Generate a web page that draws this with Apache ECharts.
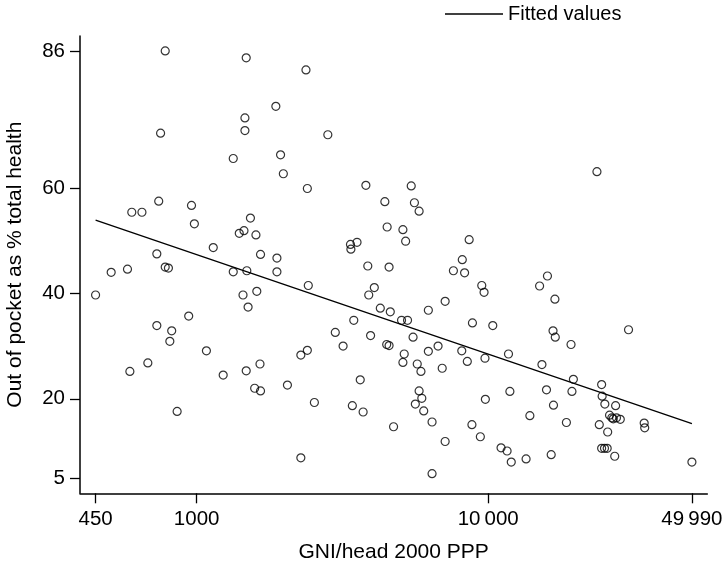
<!DOCTYPE html>
<html>
<head>
<meta charset="utf-8">
<script src="https://cdn.jsdelivr.net/npm/echarts@6/dist/echarts.min.js"></script>
<style>html,body{margin:0;padding:0;background:#fff}#c{width:727px;height:566px}</style>
</head>
<body>
<div id="c"></div>
<script>
var gni = [450,509,579,590,599,649,680,730,730,741,
752,780,780,800,809,821,857,939,960,982,
1080,1140,1233,1335,1335,1400,1442,1453,1464,1464,
1479,1479,1486,1501,1529,1581,1597,1608,1649,1656,
1656,1869,1885,1885,1940,1983,2048,2277,2277,2371,
2397,2397,2415,2534,2818,2989,3179,3370,3381,3420,
3459,3549,3640,3724,3806,3864,3893,3950,4068,4265,
4421,4486,4502,4571,4571,4736,4615,5044,5099,5099,
5152,5210,5289,5445,5525,5584,5625,5710,5795,5795,
5880,5920,6010,6234,6234,6419,6419,6731,6955,7118,
7118,7598,8117,8150,8300,8480,8605,8795,8830,9400,
9506,9680,9750,9780,10370,11070,11610,11740,11870,12000,
13490,13900,15010,15290,15850,15970,16450,16690,16750,16940,
16990,18550,19240,19380,19600,23610,24050,24500,24600,24500,
25060,25600,25130,25700,26080,26560,26860,27170,27360,27550,
28390,30300,34290,34430,49990];
var oop = [39.7,44.0,44.6,25.2,55.4,55.4,26.8,33.9,47.5,57.5,
70.4,86.0,45.0,44.8,30.9,32.9,17.6,35.7,56.7,53.2,
29.1,48.7,24.5,65.6,44.1,51.4,39.7,51.9,73.3,70.9,
84.7,25.3,44.3,37.4,54.3,22.0,51.1,40.4,26.6,47.4,
21.5,75.5,46.7,44.1,66.3,62.7,22.6,28.3,8.8,82.4,
59.9,29.2,41.5,19.3,70.1,32.6,30.0,49.3,48.4,18.7,
34.9,49.7,23.6,17.5,60.5,45.2,39.7,32.0,41.1,37.2,
57.4,30.3,52.6,30.1,45.0,14.7,36.5,34.9,52.1,26.9,
28.5,49.9,34.9,60.4,31.7,57.2,19.0,26.6,55.6,21.5,
25.2,20.1,17.7,29.0,36.8,15.6,5.8,30.0,25.8,38.5,
11.9,44.3,29.1,46.4,43.9,27.1,50.2,15.1,34.4,12.8,
41.5,40.2,27.7,19.9,33.9,10.7,10.1,28.5,21.4,8.0,
8.6,16.8,41.4,26.5,21.7,43.3,9.4,32.9,18.8,38.9,
31.7,15.5,30.3,21.4,23.7,63.1,15.1,22.7,20.5,10.6,
10.6,10.6,19.0,13.7,16.9,16.4,16.2,9.1,18.7,16.4,
16.1,33.1,15.4,14.5,8.0];
var fitX = [450, 49990];
var fitY = [53.9, 15.3];
var xTickValues = [450, 1000, 10000, 49990];
var xTickLabels = ['450', '1000', '10\u2009000', '49\u2009990'];
var yTickValues = [5, 20, 40, 60, 86];
var yTickLabels = ['5', '20', '40', '60', '86'];

var scatterData = gni.map(function (g, i) { return [g, oop[i]]; });
var fitData = fitX.map(function (x, i) { return [x, fitY[i]]; });

var FONT = '"Liberation Sans", Arial, Helvetica, sans-serif';
var chart = echarts.init(document.getElementById('c'), null, {renderer: 'canvas'});
chart.setOption({
  animation: false,
  backgroundColor: '#fff',
  textStyle: {fontFamily: FONT, color: '#000'},
  grid: {left: 80, right: 19.7, top: 36, bottom: 72.7, containLabel: false, outerBoundsMode: 'none'},
  legend: {
    data: [{name: 'Fitted values', icon: 'rect'}],
    left: 445, top: 4,
    padding: 0,
    itemWidth: 58, itemHeight: 1.4,
    itemStyle: {color: '#000'},
    textStyle: {fontSize: 20, color: '#000', fontFamily: FONT, padding: [0, 0, 0, 0]}
  },
  xAxis: {
    type: 'log',
    logBase: 10,
    min: 397.9, max: 56450,
    name: 'GNI/head 2000 PPP',
    nameLocation: 'middle',
    nameGap: 48,
    nameTextStyle: {fontSize: 21, color: '#000', fontFamily: FONT},
    axisLine: {show: true, onZero: false, lineStyle: {color: '#000', width: 1.5}},
    axisTick: {show: true, length: 10, lineStyle: {color: '#000', width: 1.3}, customValues: xTickValues},
    axisLabel: {
      fontSize: 20.5, color: '#000', margin: 16, fontFamily: FONT,
      customValues: xTickValues,
      formatter: function (v) {
        for (var i = 0; i < xTickValues.length; i++) {
          if (Math.abs(v - xTickValues[i]) / xTickValues[i] < 1e-6) return xTickLabels[i];
        }
        return '';
      }
    },
    splitLine: {show: false},
    minorTick: {show: false}
  },
  yAxis: {
    type: 'value',
    min: 2.07, max: 88.84,
    name: 'Out of pocket as % total health',
    nameLocation: 'middle',
    nameGap: 54,
    nameTextStyle: {fontSize: 21, color: '#000', fontFamily: FONT},
    axisLine: {show: true, onZero: false, lineStyle: {color: '#000', width: 1.5}},
    axisTick: {show: true, length: 10, lineStyle: {color: '#000', width: 1.3}, customValues: yTickValues},
    axisLabel: {
      fontSize: 20.5, color: '#000', margin: 15, fontFamily: FONT,
      customValues: yTickValues,
      formatter: function (v) {
        for (var i = 0; i < yTickValues.length; i++) {
          if (Math.abs(v - yTickValues[i]) < 1e-6) return yTickLabels[i];
        }
        return '';
      }
    },
    splitLine: {show: false}
  },
  series: [
    {
      name: 'Observed',
      type: 'scatter',
      data: scatterData,
      symbol: 'circle',
      symbolSize: 8,
      itemStyle: {color: 'rgba(0,0,0,0)', borderColor: '#000', borderWidth: 1.2},
      emphasis: {disabled: true},
      z: 3
    },
    {
      name: 'Fitted values',
      type: 'line',
      data: fitData,
      symbol: 'none',
      lineStyle: {color: '#000', width: 1.3},
      itemStyle: {color: '#000'},
      z: 2
    }
  ]
});
</script>
</body>
</html>
